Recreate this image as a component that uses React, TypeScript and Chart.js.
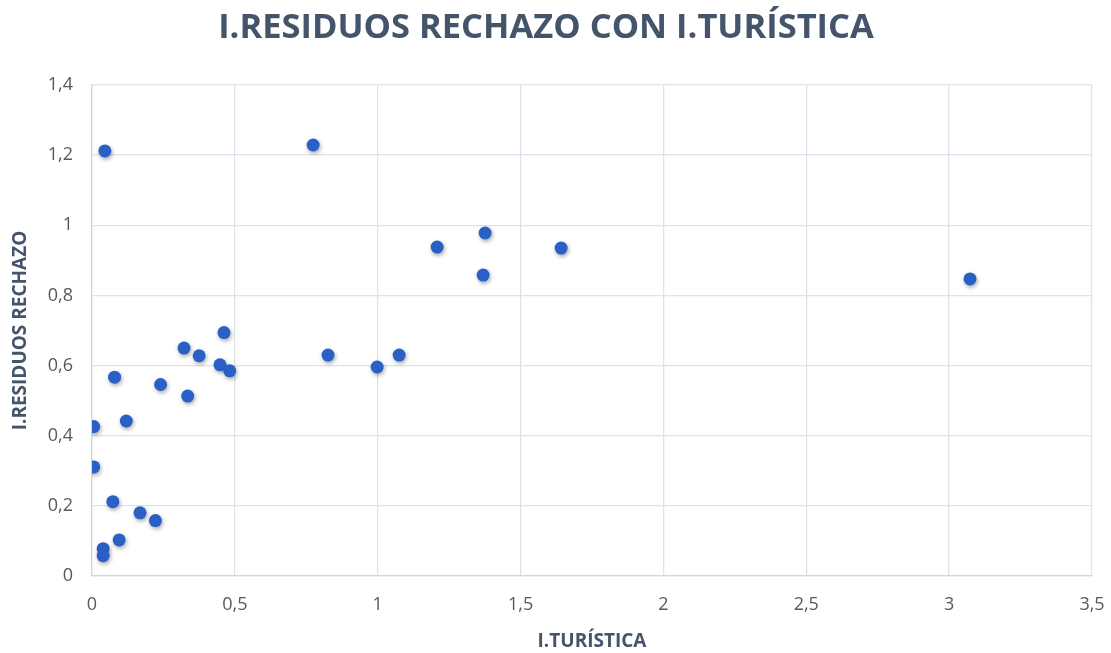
import React, { useEffect, useRef } from "react";
import { Chart, registerables } from "chart.js";

Chart.register(...registerables);

const turisticaX = [
  0.045, 0.774, 1.208, 1.376, 1.369, 1.642, 3.073, 0.462, 0.322, 0.375, 0.826, 1.075, 0.998, 0.448,
  0.482, 0.079, 0.24, 0.335, 0.12, 0.006, 0.006, 0.073, 0.168, 0.222, 0.095, 0.039, 0.039,
];
const residuosY = [
  1.212, 1.229, 0.938, 0.978, 0.858, 0.935, 0.847, 0.694, 0.65, 0.628, 0.63, 0.63, 0.596, 0.602,
  0.585, 0.567, 0.546, 0.513, 0.442, 0.426, 0.311, 0.212, 0.18, 0.158, 0.103, 0.078, 0.058,
];

const chartTitle = "I.RESIDUOS RECHAZO CON I.TURÍSTICA";
const xTitle = "I.TURÍSTICA";
const yTitle = "I.RESIDUOS RECHAZO";

const FONT = "'Open Sans', sans-serif";

const shadowPlugin = {
  id: "pointShadow",
  beforeDatasetsDraw(chart: any) {
    const ctx = chart.ctx;
    ctx.save();
    ctx.shadowColor = "rgba(0,0,0,0.35)";
    ctx.shadowBlur = 4;
    ctx.shadowOffsetX = 1;
    ctx.shadowOffsetY = 2;
  },
  afterDatasetsDraw(chart: any) {
    chart.ctx.restore();
  },
};

export default function App() {
  const ref = useRef<HTMLCanvasElement>(null);
  useEffect(() => {
    if (!ref.current) return;
    const data = turisticaX.map((x, i) => ({ x, y: residuosY[i] }));
    const comma = (v: any) => String(Number(v).toFixed(1).replace(/\.0$/, "")).replace(".", ",");
    const chart = new Chart(ref.current, {
      type: "scatter",
      data: {
        datasets: [
          {
            data,
            backgroundColor: "#2A60C6",
            borderColor: "#2A60C6",
            pointRadius: 6.5,
            pointHoverRadius: 6.5,
            borderWidth: 0,
          },
        ],
      },
      plugins: [shadowPlugin],
      options: {
        animation: false,
        responsive: false,
        maintainAspectRatio: false,
        layout: { padding: { left: 0, right: 19, top: 0, bottom: 0 } },
        plugins: {
          legend: { display: false },
          tooltip: { enabled: false },
          title: {
            display: true,
            text: chartTitle,
            color: "#44546A",
            font: { family: FONT, size: 34.5, weight: "bold" },
            padding: { top: 7, bottom: 36.6 },
          },
        },
        scales: {
          x: {
            type: "linear",
            min: 0,
            max: 3.5,
            ticks: {
              stepSize: 0.5,
              color: "#595959",
              font: { family: FONT, size: 18 },
              padding: 18,
              callback: (v: any) => comma(v),
            },
            grid: { color: "#DDE3EA", lineWidth: 1.3, drawTicks: false },
            border: { color: "#D0D7E0", width: 1.3 },
            title: {
              display: true,
              text: xTitle,
              color: "#44546A",
              font: { family: FONT, size: 19, weight: "bold" },
              padding: { top: 4, bottom: 0 },
            },
            afterFit: (s: any) => {
              s.height = 77;
              s.paddingLeft = 0;
              s.paddingRight = 0;
            },
          },
          y: {
            type: "linear",
            min: 0,
            max: 1.4,
            ticks: {
              stepSize: 0.2,
              color: "#595959",
              font: { family: FONT, size: 18 },
              padding: 19,
              callback: (v: any) => comma(v),
            },
            grid: { color: "#DDE3EA", lineWidth: 1.3, drawTicks: false },
            border: { color: "#D0D7E0", width: 1.3 },
            title: {
              display: true,
              text: yTitle,
              color: "#44546A",
              font: { family: FONT, size: 19, weight: "bold" },
              padding: { top: 9, bottom: 0 },
            },
            afterFit: (s: any) => {
              s.width = 92;
              s.paddingTop = 0;
              s.paddingBottom = 0;
            },
          },
        },
      },
    });
    return () => chart.destroy();
  }, []);
  return (
    <div style={{ position: "fixed", left: 0, top: 0, width: 1111, height: 653, background: "#fff" }}>
      <canvas ref={ref} width={1111} height={653} style={{ width: 1111, height: 653 }} />
    </div>
  );
}
